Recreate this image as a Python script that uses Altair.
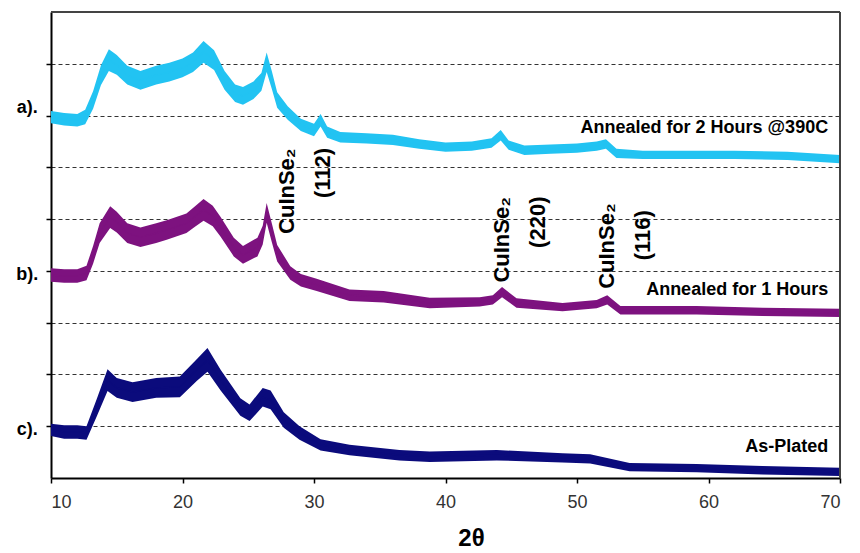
import altair as alt
import pandas as pd

# ---- data (intensity in arbitrary offset counts) ----
a_x = [10.0, 11.0, 12.0, 12.6, 13.2, 13.8, 14.4, 15.0, 15.8, 16.8, 18.0, 19.0, 20.0, 20.8, 21.6, 22.4,
       23.2, 24.0, 24.6, 25.4, 26.0, 26.4, 26.8, 27.2, 28.0, 29.0, 30.0, 30.5, 31.0, 32.0, 34.0, 36.0,
       38.0, 40.0, 42.0, 43.5, 44.2, 44.8, 46.0, 48.0, 50.0, 51.5, 52.2, 53.0, 55.0, 58.0, 62.0, 66.0, 70.0]
a_y = [697, 693, 691, 697, 730, 778, 807, 798, 778, 768, 778, 784, 792, 803, 823, 807,
       768, 743, 738, 749, 765, 803, 768, 730, 705, 682, 672, 691, 668, 658, 656, 653,
       645, 639, 641, 647, 662, 643, 633, 635, 637, 641, 645, 627, 624, 624, 624, 622, 616]
a_s = [12, 12, 12, 14, 17, 19, 21, 19, 18, 18, 18, 18, 18, 19, 21, 19,
       18, 17, 17, 17, 17, 19, 17, 15, 13, 12, 12, 12, 11, 10, 10, 10,
       9, 9, 9, 9, 10, 9, 9, 9, 9, 9, 9, 9, 8, 8, 8, 8, 8]

b_x = [10.0, 11.0, 12.0, 12.7, 13.2, 13.7, 14.5, 15.0, 15.8, 16.8, 18.0, 18.8, 20.3, 21.0, 21.6, 22.3,
       22.9, 23.9, 24.6, 25.7, 26.1, 26.4, 26.8, 27.2, 28.2, 29.0, 30.2, 32.7, 35.3, 38.8, 42.6, 43.6,
       44.3, 45.4, 48.9, 51.5, 52.3, 53.3, 59.1, 64.1, 70.0]
b_y = [392, 390, 390, 396, 431, 473, 504, 494, 473, 465, 473, 479, 492, 506, 518, 506,
       485, 446, 431, 446, 469, 512, 473, 434, 396, 382, 373, 353, 350, 338, 340, 344,
       359, 338, 330, 336, 344, 324, 324, 321, 319]
b_s = [13, 13, 13, 14, 17, 19, 21, 20, 19, 19, 19, 19, 19, 20, 21, 20,
       19, 18, 17, 18, 18, 19, 18, 16, 13, 12, 12, 11, 11, 10, 9, 9,
       10, 9, 8, 8, 9, 8, 8, 8, 8]

c_x = [10.0, 11.0, 12.0, 12.7, 13.1, 13.5, 14.3, 15.0, 16.2, 18.0, 19.8, 21.1, 21.9, 22.9, 24.4, 25.1,
       26.1, 26.7, 27.7, 28.9, 30.5, 32.7, 36.5, 38.8, 43.9, 48.9, 51.0, 54.0, 59.1, 64.1, 70.0]
c_y = [93, 89, 89, 87, 112, 137, 189, 174, 166, 174, 176, 209, 228, 189, 137, 126,
       156, 151, 112, 87, 64, 54, 44, 41, 44, 39, 37, 21, 19, 15, 12]
c_s = [12, 13, 13, 13, 15, 17, 21, 19, 19, 19, 20, 21, 23, 20, 17, 16,
       18, 18, 15, 13, 11, 10, 10, 10, 10, 9, 9, 8, 8, 8, 8]

series_names = ["a", "b", "c"]
series_colors = ["#22c3f2", "#7d127f", "#0b0b7c"]

rows = []
for name, xs_, ys_, ss_ in [("a", a_x, a_y, a_s), ("b", b_x, b_y, b_s), ("c", c_x, c_y, c_s)]:
    for x, y, s in zip(xs_, ys_, ss_):
        rows.append({"series": name, "theta": x, "count": y, "lo": y - s, "hi": y + s})
df = pd.DataFrame(rows)

# left side letters
side_text = ["a).", "b).", "c)."]
side_x = [8.2, 8.2, 8.2]
side_y = [714, 392, 93]

# series labels (right aligned)
lab_text = ["Annealed for 2 Hours @390C", "Annealed for 1 Hours", "As-Plated"]
lab_x = [69.1, 69.1, 69.1]
lab_y = [676, 363, 60]

# rotated peak labels
pk_text = ["CuInSe₂", "(112)", "CuInSe₂", "(220)", "CuInSe₂", "(116)"]
pk_x = [27.95, 30.7, 44.3, 47.05, 52.3, 55.0]
pk_y = [554, 589, 460, 494, 448, 469]

x_axis = alt.Axis(values=[10, 20, 30, 40, 50, 60, 70], title="2θ", grid=False,
                  domainColor="black", domainWidth=2, tickColor="black", tickWidth=1.5,
                  tickSize=5, labelFontSize=18, labelColor="#333333", labelFont="Liberation Sans",
                  labelPadding=10, titleFontSize=24, titleFont="Liberation Sans",
                  titleFontWeight="bold", titleColor="black", titleX=420, titlePadding=15)
y_axis = alt.Axis(values=[100, 200, 300, 400, 500, 600, 700, 800], labels=False, title=None,
                  grid=True, gridDash=[4, 3], gridColor="#333333", gridWidth=1.2,
                  domainColor="black", domainWidth=2, tickColor="black", tickSize=5, tickWidth=1.5)
x_scale = alt.Scale(domain=[10, 70], nice=False, zero=False)
y_scale = alt.Scale(domain=[0, 900], nice=False)

col = alt.Color("series:N", scale=alt.Scale(domain=series_names, range=series_colors), legend=None)

base = alt.Chart(df)
band = base.mark_area(opacity=1).encode(
    x=alt.X("theta:Q", scale=x_scale, axis=x_axis),
    y=alt.Y("lo:Q", scale=y_scale, axis=y_axis),
    y2="hi:Q", color=col, detail="series:N")
line = base.mark_line(strokeWidth=1.2).encode(x="theta:Q", y="count:Q", color=col, detail="series:N")

# plot frame (top and right border), placed through the scales
frame_df = pd.DataFrame({"x1": [10, 70], "x2": [70, 70], "y1": [900, 0], "y2": [900, 900]})
frame = alt.Chart(frame_df).mark_rule(color="#444444", strokeWidth=2).encode(
    x="x1:Q", x2="x2:Q", y="y1:Q", y2="y2:Q")

side_df = pd.DataFrame({"t": side_text, "x": side_x, "y": side_y})
side = alt.Chart(side_df).mark_text(font="Liberation Sans", fontSize=18, fontWeight="bold",
                                    align="center", baseline="middle", color="black").encode(
    x="x:Q", y="y:Q", text="t:N")

lab_df = pd.DataFrame({"t": lab_text, "x": lab_x, "y": lab_y})
labs = alt.Chart(lab_df).mark_text(font="Liberation Sans", fontSize=18, fontWeight="bold",
                                   align="right", baseline="middle", color="black").encode(
    x="x:Q", y="y:Q", text="t:N")

pk_df = pd.DataFrame({"t": pk_text, "x": pk_x, "y": pk_y})
pks = alt.Chart(pk_df).mark_text(font="Liberation Sans", fontSize=22, fontWeight="bold", angle=270,
                                 align="center", baseline="middle", color="black").encode(
    x="x:Q", y="y:Q", text="t:N")

chart = alt.layer(band, line, frame, side, labs, pks).properties(
    width=789, height=466,
    autosize=alt.AutoSizeParams(type="none"),
    padding={"left": 43, "top": 4, "right": 12, "bottom": 74},
).configure_view(stroke="#333333", strokeWidth=1.5).configure(background="white")

chart.save("out.html", embed_options={"renderer": "svg", "actions": False})
